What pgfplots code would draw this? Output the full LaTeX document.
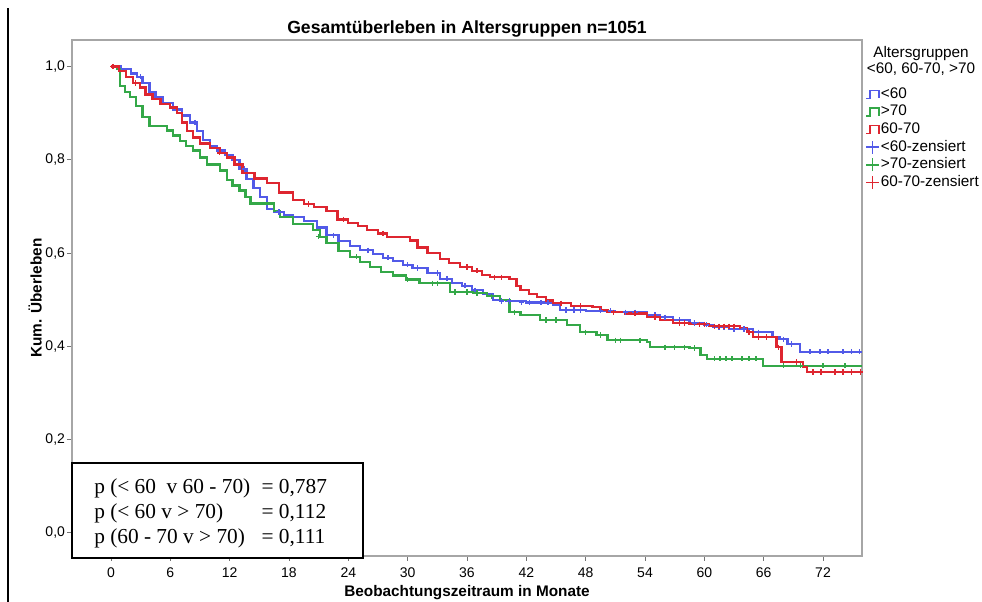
\documentclass[border=0pt]{standalone}
\usepackage{pgfplots}
\pgfplotsset{compat=1.18}
\usepackage{fontspec}
\setmainfont{Liberation Sans}
\newfontfamily\serifp{Liberation Serif}
\definecolor{kmblue}{RGB}{82,90,232}
\definecolor{kmred}{RGB}{222,38,48}
\definecolor{kmgreen}{RGB}{52,168,72}
\pgfplotsset{
  steplegend/.style={legend image code/.code={\draw[##1, line width=1.2pt] (0pt,-3pt) -- (3pt,-3pt) -- (3pt,3pt) -- (9.5pt,3pt) -- (9.5pt,-3pt);}},
  pluslegend/.style={legend image code/.code={\draw[##1, line width=1.2pt] (0pt,0pt) -- (9.5pt,0pt) (4.75pt,-4.8pt) -- (4.75pt,4.8pt);}},
  kmline/.style={line width=1.7pt, const plot, no marks, line join=miter, steplegend},
  kmcens/.style={only marks, mark=+, mark size=2pt, line width=1.1pt, forget plot},
}
\begin{document}
\begin{tikzpicture}
\path[use as bounding box] (0,0) rectangle (736.5pt,451.5pt);
\draw[black, line width=1pt] (6pt,0) -- (6pt,445.5pt);
\begin{axis}[
  at={(54pt,34.5pt)}, anchor=south west, scale only axis,
  width=592.5pt, height=387pt,
  xmin=-3.94, xmax=75.94, ymin=-0.05, ymax=1.057,
  xtick={0,6,12,18,24,30,36,42,48,54,60,66,72},
  xticklabels={0,6,12,18,24,30,36,42,48,54,60,66,72},
  ytick={0,0.2,0.4,0.6,0.8,1.0},
  yticklabels={{0,0},{0,2},{0,4},{0,6},{0,8},{1,0}},
  tick align=outside, major tick length=3.75pt,
  tick style={color=gray!90!black, line width=0.6pt},
  axis line style={gray!70, line width=0.9pt},
  xtick pos=bottom, ytick pos=left,
  ticklabel style={font=\fontsize{10.5}{12}\selectfont},
  xticklabel style={yshift=-1.5pt},
  yticklabel style={xshift=2pt},
  xlabel={Beobachtungszeitraum in Monate},
  xlabel style={at={(axis description cs:0.5,-0.0717)}, anchor=center, font=\fontsize{11.5}{13}\selectfont\bfseries},
  ylabel={Kum. Überleben},
  ylabel style={at={(axis description cs:-0.0468,0.5)}, anchor=center, font=\fontsize{11.5}{13}\selectfont\bfseries},
  legend style={at={(axis description cs:1.0038,0.912)}, anchor=north west, draw=none, fill=none,
    inner sep=0pt, row sep=0.2pt, font=\fontsize{11.5}{13}\selectfont,
    nodes={inner sep=1pt, text height=8.5pt, text depth=2.5pt}},
  legend cell align=left,
  clip=false,
]
\addplot[kmblue, kmline] coordinates {
(0,1.0) (1,0.995) (2,0.985) (2.6,0.978) (3.2,0.965) (3.9,0.945) (4.5,0.935) (5.2,0.922)
(6.3,0.908) (7.2,0.895) (8,0.88) (8.7,0.862) (9.3,0.842) (10,0.83) (10.7,0.82) (11.5,0.81)
(12.3,0.80) (13,0.78) (13.7,0.758) (14.4,0.74) (15.1,0.72) (15.8,0.695) (16.5,0.688)
(17.5,0.682) (18.4,0.677) (19.5,0.668) (20.8,0.655) (21.8,0.638) (23,0.625) (24.2,0.615)
(25.2,0.606) (26.5,0.598) (27.5,0.59) (28.5,0.583) (29.5,0.575) (30.5,0.568) (32,0.557)
(33.3,0.545) (34.5,0.536) (35.5,0.53) (36.5,0.52) (37.6,0.512) (38.6,0.499) (40,0.497)
(42,0.494) (44.7,0.488) (45.4,0.478) (48,0.476) (51,0.473) (54.2,0.467) (55.5,0.462)
(56.8,0.456) (58.5,0.45) (60,0.446) (60.9,0.441) (62.5,0.437) (64.9,0.43) (66.9,0.42)
(67.6,0.415) (68.4,0.405) (69.7,0.388) (75.94,0.388)};
\addlegendentry{<60}
\addplot[kmgreen, kmline] coordinates {
(0,1.0) (0.6,0.995) (0.9,0.958) (1.4,0.945) (1.9,0.934) (2.5,0.915) (3.2,0.892) (3.9,0.872)
(5.7,0.863) (6.3,0.852) (7,0.84) (7.6,0.83) (8.3,0.82) (9,0.805) (9.7,0.79) (11,0.777)
(11.7,0.756) (12.3,0.745) (13,0.734) (13.6,0.72) (14.1,0.706) (15.8,0.706) (16.5,0.69)
(17.1,0.677) (18.4,0.662) (20.4,0.65) (21.1,0.635) (21.8,0.622) (23,0.605) (24.2,0.592)
(25.2,0.58) (26.2,0.57) (27.3,0.56) (28.5,0.552) (29.8,0.543) (31.2,0.535) (33.6,0.535)
(34.3,0.516) (36.6,0.514) (38,0.507) (39.3,0.499) (40.3,0.473) (41.4,0.467) (43.4,0.456)
(46.1,0.445) (47.4,0.43) (49.1,0.424) (50.2,0.413) (54.2,0.409) (54.5,0.398) (58.5,0.396)
(59.6,0.381) (60.3,0.373) (65.6,0.373) (65.9,0.358) (75.94,0.358)};
\addlegendentry{>70}
\addplot[kmred, kmline] coordinates {
(0,1.0) (0.8,0.99) (1.5,0.978) (2.2,0.965) (2.9,0.955) (3.5,0.94) (4.2,0.93) (5,0.92)
(6,0.912) (6.7,0.9) (7.2,0.88) (7.7,0.862) (8.3,0.848) (9,0.835) (10,0.825) (11,0.815)
(11.7,0.805) (12.5,0.79) (13.3,0.772) (14.5,0.76) (15.8,0.75) (17,0.73) (18.4,0.713)
(19.5,0.705) (20.5,0.698) (21.8,0.69) (22.9,0.672) (24,0.665) (25,0.658) (25.9,0.649)
(27,0.642) (27.9,0.634) (30.2,0.627) (31,0.612) (32,0.6) (33.3,0.587) (34.2,0.578)
(35.3,0.57) (36.5,0.562) (37.5,0.553) (38.3,0.548) (40.3,0.544) (41,0.53) (41.4,0.52)
(42.3,0.512) (43.1,0.506) (44,0.498) (44.7,0.492) (46.5,0.487) (48.7,0.484) (49.5,0.478)
(50.2,0.473) (52,0.47) (54.2,0.463) (55.5,0.457) (56.8,0.45) (58.5,0.447) (60.5,0.443)
(63.6,0.439) (64.3,0.43) (64.9,0.42) (66.9,0.42) (67.3,0.398) (67.8,0.366) (69.7,0.366)
(70.0,0.355) (70.4,0.345) (75.94,0.345)};
\addlegendentry{60-70}
% censored marks
\addplot[kmblue, kmcens] coordinates {
(3,0.978) (8.5,0.88) (13.5,0.78) (17,0.688) (22.5,0.638) (26,0.606) (28,0.59) (30,0.575)
(31,0.568) (33,0.557) (34,0.545) (35.8,0.53) (36.8,0.52) (39.5,0.497) (40.3,0.497)
(41.5,0.494) (42.3,0.494) (43.5,0.494) (44.2,0.494) (46,0.478) (46.8,0.478) (47.5,0.478)
(49.5,0.476) (50.5,0.476) (52,0.473) (53,0.473) (55,0.467) (56,0.462) (57.5,0.456)
(59,0.45) (60.2,0.446) (61.5,0.441) (62,0.441) (63,0.437) (64,0.437) (65.5,0.43)
(68,0.415) (68.8,0.405) (70.7,0.388) (71.7,0.388) (72.5,0.388) (74,0.388) (74.9,0.388) (75.7,0.388)};
\addplot[kmgreen, kmcens] coordinates {
(21,0.635) (24.8,0.592) (30,0.543) (32.5,0.535) (33,0.535) (34.8,0.516) (36,0.516) (37,0.514)
(38.5,0.507) (40.8,0.473) (44,0.456) (45,0.456) (48,0.43) (49.5,0.424) (51,0.413) (51.5,0.413)
(53.5,0.413) (56,0.398) (57,0.398) (58,0.398) (59,0.396) (61,0.373) (61.6,0.373) (62.2,0.373)
(62.8,0.373) (63.8,0.373) (64.5,0.373) (65.2,0.373) (68,0.358) (69.7,0.358) (72,0.358) (74.2,0.358)};
\addplot[kmred, kmcens] coordinates {
(0.2,1.0) (2.5,0.965) (11,0.815) (20,0.705) (23.5,0.672) (27.5,0.642) (36,0.57) (37,0.562)
(38.8,0.548) (39.5,0.548) (45.5,0.492) (47.5,0.487) (50.8,0.473) (53,0.47) (55,0.463)
(57.5,0.45) (58,0.45) (59.5,0.447) (60,0.447) (61,0.443) (61.5,0.443) (62,0.443) (62.5,0.443)
(63,0.443) (64.5,0.43) (65.5,0.42) (66.3,0.42) (67.5,0.398) (69.3,0.366) (71,0.345)
(71.8,0.345) (73.2,0.345) (74,0.345) (74.9,0.345) (75.8,0.345)};
\addlegendimage{kmblue, pluslegend}
\addlegendentry{<60-zensiert}
\addlegendimage{kmgreen, pluslegend}
\addlegendentry{>70-zensiert}
\addlegendimage{kmred, pluslegend}
\addlegendentry{60-70-zensiert}
\node[align=center, font=\fontsize{11.5}{12}\selectfont, inner sep=0pt] at (axis description cs:1.0747,0.959) {Altersgruppen\\<60, 60-70, >70};
\node[font=\fontsize{13.2}{15}\selectfont\bfseries, inner sep=0pt] at (axis description cs:0.5,1.021) {Gesamtüberleben in Altersgruppen n=1051};
\end{axis}
\draw[black, line width=1.5pt, fill=white] (54pt,33pt) rectangle (272.25pt,104.25pt);
\node[anchor=west, inner sep=0pt, font=\serifp\fontsize{16}{18.75}\selectfont] at (70.5pt,66pt)
{\begin{tabular}{@{}p{125.5pt}@{}l@{}}
p (< 60~ v 60 - 70) & = 0,787\\
p (< 60 v > 70) & = 0,112\\
p (60 - 70 v > 70) & = 0,111
\end{tabular}};
\end{tikzpicture}
\end{document}
